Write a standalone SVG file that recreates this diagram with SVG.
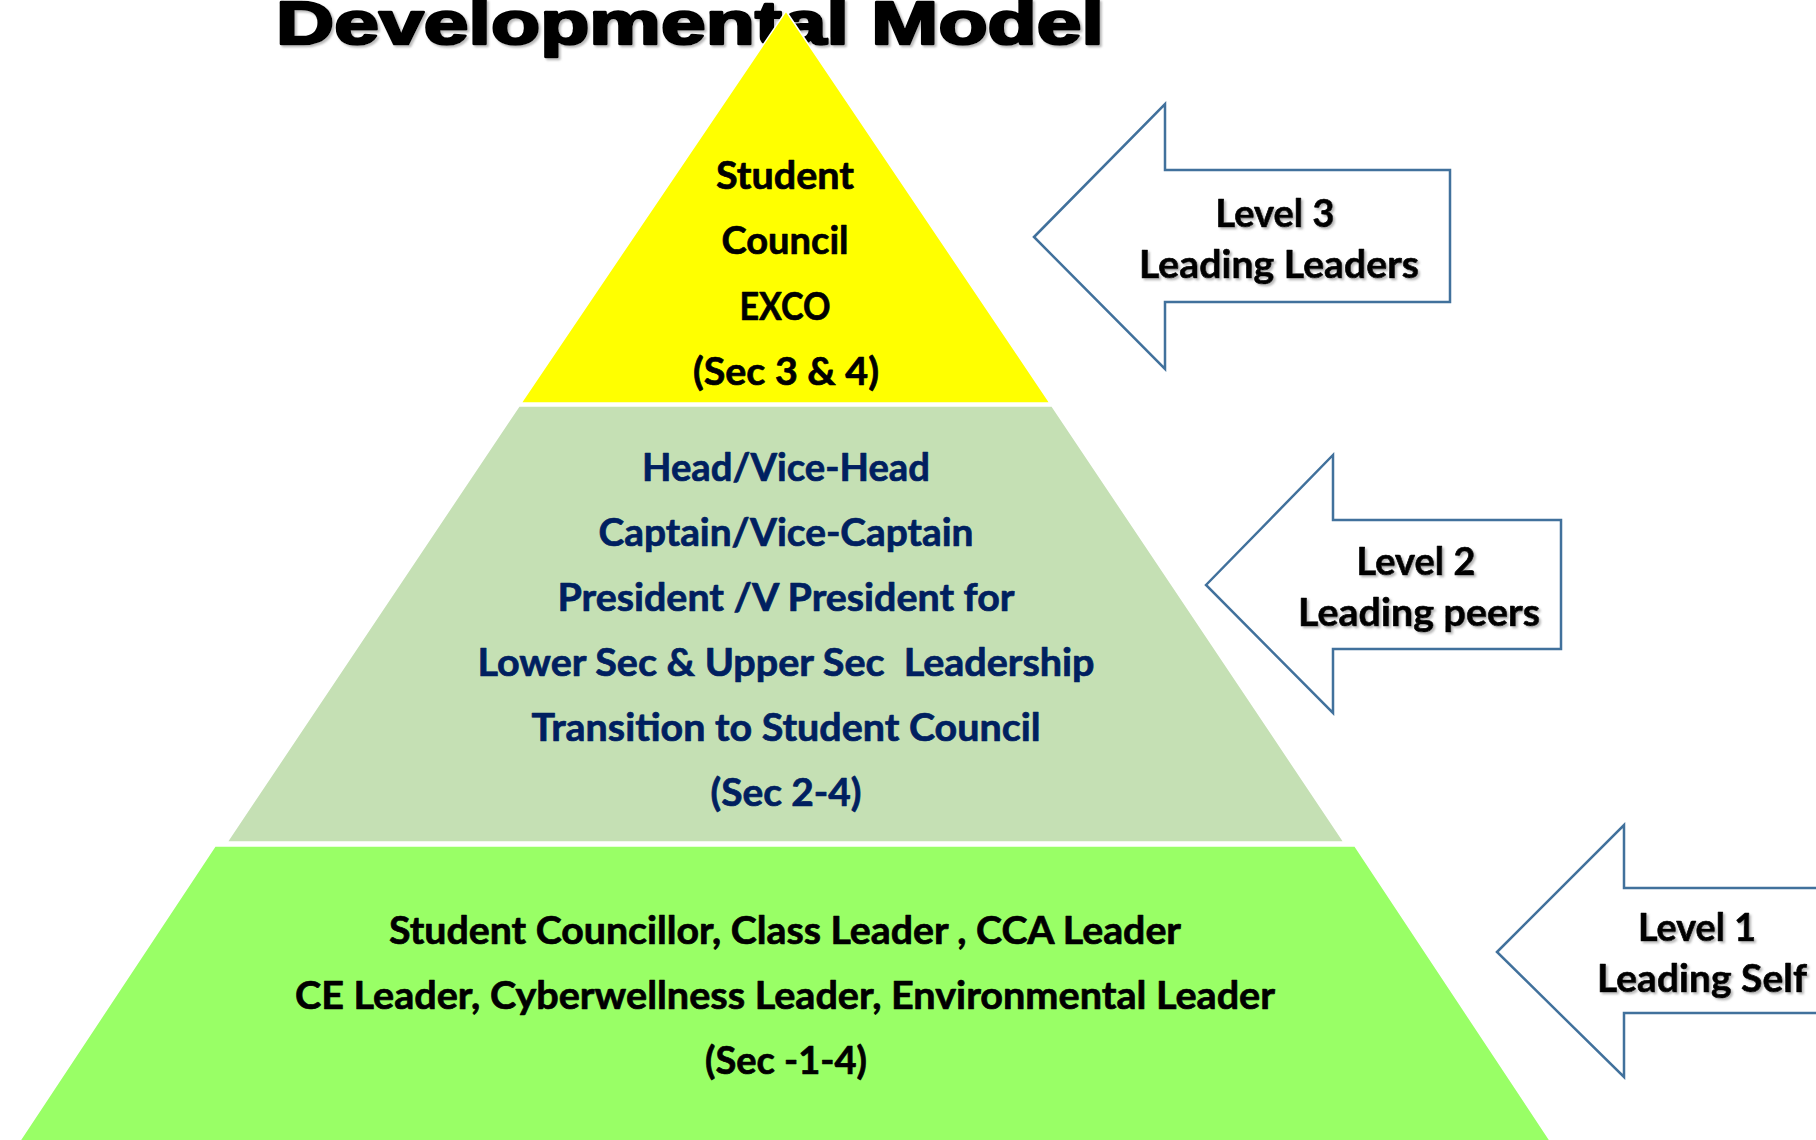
<svg xmlns="http://www.w3.org/2000/svg" width="1816" height="1140" viewBox="0 0 1816 1140">
<defs>
<filter id="shadow" x="-10%" y="-30%" width="120%" height="160%">
<feDropShadow dx="2" dy="2" stdDeviation="1.2" flood-color="#808080" flood-opacity="0.55"/>
</filter>
<style>
.title{font-family:"Liberation Sans",Arial,sans-serif;font-weight:bold;font-size:62px;fill:#000;stroke:#000;stroke-width:2.6px;stroke-linejoin:round}
.lbl{font-family:Lato,"Liberation Sans",sans-serif;font-weight:bold;font-size:39px;text-anchor:middle;stroke-width:0.7px;stroke-linejoin:round}
.blk{fill:#000;stroke:#000}
.navy{fill:#002060;stroke:#002060}
.arrow{fill:#fff;stroke:#41719C;stroke-width:2.5;stroke-linejoin:miter}
.layer{stroke:#fff;stroke-width:1.5}
</style>
</defs>
<rect width="1816" height="1140" fill="#fff"/>
<g id="title" filter="url(#shadow)">
<text class="title" x="276" y="44" textLength="828" lengthAdjust="spacingAndGlyphs">Developmental Model</text>
</g>
<g id="level3-layer">
<polygon class="layer" fill="#FFFF00" points="786,11 1050,403 521,403"/>
<text class="lbl blk" x="785" y="189" textLength="138" lengthAdjust="spacingAndGlyphs">Student</text>
<text class="lbl blk" x="785" y="254" textLength="127" lengthAdjust="spacingAndGlyphs">Council</text>
<text class="lbl blk" x="785" y="320" textLength="91" lengthAdjust="spacingAndGlyphs">EXCO</text>
<text class="lbl blk" x="786" y="385" textLength="186" lengthAdjust="spacingAndGlyphs">(Sec 3 &amp; 4)</text>
</g>
<g id="level2-layer">
<polygon class="layer" fill="#C5E0B4" points="519,406 1052,406 1344,842 227,842"/>
<text class="lbl navy" x="786" y="481" textLength="288" lengthAdjust="spacingAndGlyphs">Head/Vice-Head</text>
<text class="lbl navy" x="786" y="546" textLength="375" lengthAdjust="spacingAndGlyphs">Captain/Vice-Captain</text>
<text class="lbl navy" x="786" y="611" textLength="457" lengthAdjust="spacingAndGlyphs">President /V President for</text>
<text class="lbl navy" x="786" y="676" textLength="617" lengthAdjust="spacingAndGlyphs" xml:space="preserve">Lower Sec &amp; Upper Sec  Leadership</text>
<text class="lbl navy" x="786" y="741" textLength="509" lengthAdjust="spacingAndGlyphs">Transition to Student Council</text>
<text class="lbl navy" x="786" y="806" textLength="151" lengthAdjust="spacingAndGlyphs">(Sec 2-4)</text>
</g>
<g id="level1-layer">
<polygon class="layer" fill="#99FF66" points="215,846 1355,846 1553,1145 17,1145"/>
<text class="lbl blk" x="785" y="944" textLength="792" lengthAdjust="spacingAndGlyphs">Student Councillor, Class Leader , CCA Leader</text>
<text class="lbl blk" x="785" y="1009" textLength="980" lengthAdjust="spacingAndGlyphs">CE Leader, Cyberwellness Leader, Environmental Leader</text>
<text class="lbl blk" x="786" y="1074" textLength="162" lengthAdjust="spacingAndGlyphs">(Sec -1-4)</text>
</g>
<g id="arrow-level3">
<polygon class="arrow" points="1034,237 1165,104 1165,170 1450,170 1450,302 1165,302 1165,369"/>
<g filter="url(#shadow)">
<text class="lbl blk" x="1275" y="227" textLength="119" lengthAdjust="spacingAndGlyphs">Level 3</text>
<text class="lbl blk" x="1279" y="278" textLength="280" lengthAdjust="spacingAndGlyphs">Leading Leaders</text>
</g>
</g>
<g id="arrow-level2">
<polygon class="arrow" points="1206,585 1333,455 1333,520 1561,520 1561,649 1333,649 1333,713"/>
<g filter="url(#shadow)">
<text class="lbl blk" x="1416" y="575" textLength="119" lengthAdjust="spacingAndGlyphs">Level 2</text>
<text class="lbl blk" x="1419" y="626" textLength="242" lengthAdjust="spacingAndGlyphs">Leading peers</text>
</g>
</g>
<g id="arrow-level1">
<polygon class="arrow" points="1497,952 1624,825 1624,888 1830,888 1830,1013 1624,1013 1624,1077"/>
<g filter="url(#shadow)">
<text class="lbl blk" x="1697" y="941" textLength="118" lengthAdjust="spacingAndGlyphs">Level 1</text>
<text class="lbl blk" x="1702" y="992" textLength="210" lengthAdjust="spacingAndGlyphs">Leading Self</text>
</g>
</g>
<g id="connectors"/>
</svg>
